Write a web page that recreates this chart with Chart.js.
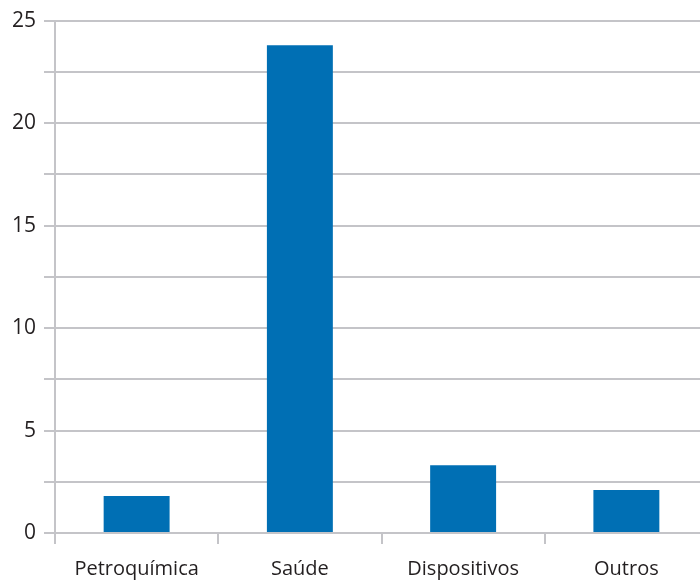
<!DOCTYPE html>
<html>
<head>
<meta charset="utf-8">
<script src="https://cdn.jsdelivr.net/npm/chart.js@4/dist/chart.umd.min.js"></script>
<style>
  html, body { margin: 0; padding: 0; background: #fff; overflow: hidden; }
  #wrap { width: 708px; height: 581px; position: relative; }
</style>
</head>
<body>
<div id="wrap"><canvas id="chart"></canvas></div>
<script>
const categories = ['Petroquímica', 'Saúde', 'Dispositivos', 'Outros'];
const values = [1.8, 23.8, 3.3, 2.1];
const yTickLabels = [0, 5, 10, 15, 20, 25];

const GRID = '#c4c4c8';
const TEXT = '#231f20';
const FONT = '"Open Sans", "Noto Sans", sans-serif';

new Chart(document.getElementById('chart'), {
  type: 'bar',
  data: {
    labels: categories,
    datasets: [{
      data: values,
      backgroundColor: '#006fb4',
      barPercentage: 0.404,
      categoryPercentage: 1,
    }],
  },
  options: {
    responsive: true,
    maintainAspectRatio: false,
    animation: false,
    layout: { padding: { top: 20, right: 0, left: 0, bottom: 0 } },
    plugins: { legend: { display: false }, tooltip: { enabled: false } },
    scales: {
      x: {
        offset: true,
        grid: { offset: true, drawOnChartArea: false, drawTicks: true, tickLength: 11, color: GRID, lineWidth: 2 },
        border: { color: GRID, width: 2 },
        ticks: { color: TEXT, font: { family: FONT, size: 20 }, padding: 13, maxRotation: 0 },
        afterFit: (s) => { s.height = 48; },
      },
      y: {
        min: 0,
        max: 25,
        grid: { color: GRID, lineWidth: 2, tickLength: 11 },
        border: { color: GRID, width: 2 },
        ticks: {
          stepSize: 2.5,
          color: TEXT,
          font: { family: FONT, size: 21 },
          padding: 8,
          callback: (v) => (yTickLabels.includes(v) ? String(v) : ''),
        },
        afterFit: (s) => { s.width = 55; },
      },
    },
  },
});
</script>
</body>
</html>
